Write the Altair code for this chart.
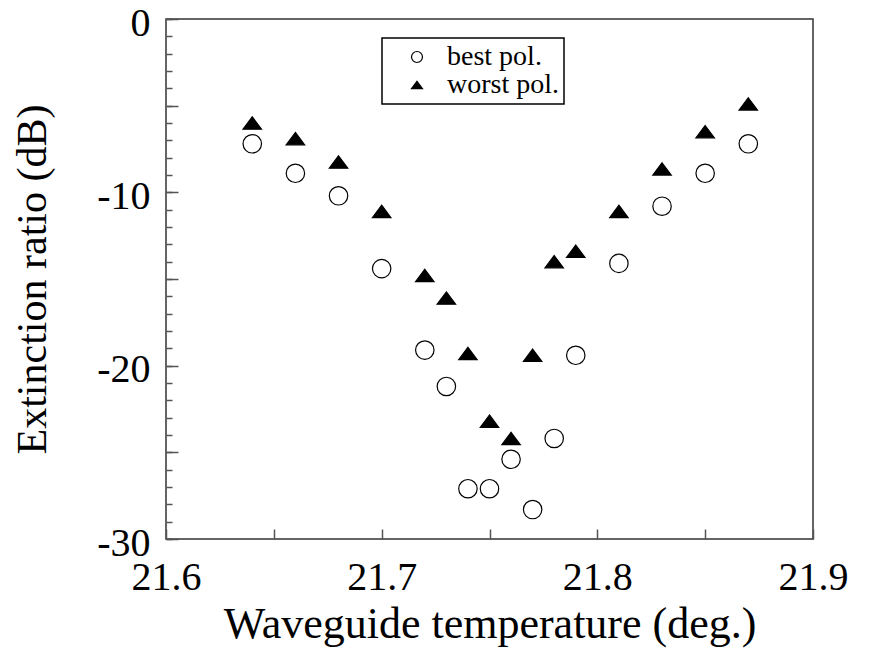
import altair as alt
import pandas as pd

# ---- data ----
temperature = [21.64, 21.66, 21.68, 21.70, 21.72, 21.73, 21.74, 21.75,
               21.76, 21.77, 21.78, 21.79, 21.81, 21.83, 21.85, 21.87]
best_pol = [-7.2, -8.9, -10.2, -14.4, -19.1, -21.2, -27.1, -27.1,
            -25.4, -28.3, -24.2, -19.4, -14.1, -10.8, -8.9, -7.2]
worst_pol = [-6.0, -6.9, -8.25, -11.1, -14.8, -16.1, -19.3, -23.2,
             -24.2, -19.4, -14.0, -13.4, -11.1, -8.65, -6.5, -4.9]
series_names = ["best pol.", "worst pol."]

x_major_ticks = [21.6, 21.65, 21.7, 21.75, 21.8, 21.85, 21.9]
y_major_ticks = [-30, -25, -20, -15, -10, -5, 0]
y_minor_ticks = list(range(-30, 1))

rows = []
for t, b, w in zip(temperature, best_pol, worst_pol):
    rows.append({"temp": t, "ratio": b, "series": series_names[0]})
    rows.append({"temp": t, "ratio": w, "series": series_names[1]})
df = pd.DataFrame(rows)

FONT = "Liberation Serif"
TRI = "M0,-0.67L1,0.67L-1,0.67Z"

xscale = alt.Scale(domain=[21.6, 21.9], nice=False, zero=False)
yscale = alt.Scale(domain=[-30, 0], nice=False, zero=False)
leg = alt.Legend(title=None, orient="none", legendX=216, legendY=19)

points = alt.Chart(df).mark_point(
    filled=True, size=340, strokeWidth=1.2, opacity=1
).encode(
    x=alt.X("temp:Q", scale=xscale,
            axis=alt.Axis(values=x_major_ticks, tickSize=10, offset=-10,
                          domain=False, grid=False, labelFlush=False,
                          labelOverlap=False, labelPadding=18,
                          labelExpr="abs(datum.value*10 - round(datum.value*10)) < 0.001 ? format(datum.value, '.1f') : ''",
                          title="Waveguide temperature (deg.)", titlePadding=5)),
    y=alt.Y("ratio:Q", scale=yscale,
            axis=alt.Axis(values=y_major_ticks, tickSize=12, offset=-12,
                          domain=False, grid=False, labelFlush=False,
                          labelOverlap=False, labelPadding=16, labelOffset=4,
                          labelExpr="datum.value % 10 == 0 ? '' + datum.value : ''",
                          title="Extinction ratio (dB)", titlePadding=42)),
    shape=alt.Shape("series:N", scale=alt.Scale(domain=series_names, range=["circle", TRI]),
                    legend=leg),
    fill=alt.Fill("series:N", scale=alt.Scale(domain=series_names, range=["transparent", "black"]),
                  legend=leg),
    stroke=alt.Stroke("series:N", scale=alt.Scale(domain=series_names, range=["black", "black"]),
                      legend=leg),
)

minor = alt.Chart(pd.DataFrame({"v": y_minor_ticks})).mark_point(opacity=0).encode(
    y=alt.Y("v:Q", scale=yscale,
            axis=alt.Axis(orient="left", values=y_minor_ticks, tickSize=6, offset=-6,
                          domain=False, grid=False, labels=False, title=None)),
)

chart = alt.layer(points, minor).resolve_scale(y="independent").properties(
    width=647, height=520,
    autosize=alt.AutoSizeParams(type="none"),
    padding={"left": 158, "top": 11, "right": 40, "bottom": 115},
).configure_view(
    stroke="#333", strokeWidth=1.5
).configure_axis(
    labelFont=FONT, titleFont=FONT, labelFontSize=40, titleFontSize=42,
    labelColor="black", titleColor="black", titleFontWeight="normal",
    tickColor="#555", tickWidth=1.5
).configure_axisX(
    titleFontSize=44
).configure_legend(
    labelFont=FONT, labelFontSize=28, labelColor="black",
    strokeColor="black", strokeWidth=1.5, fillColor="white",
    padding=5, symbolSize=120, symbolOffset=16, labelOffset=16,
    rowPadding=-1, symbolStrokeWidth=1.2
)

chart.save("out.html", embed_options={"renderer": "svg", "actions": False})
